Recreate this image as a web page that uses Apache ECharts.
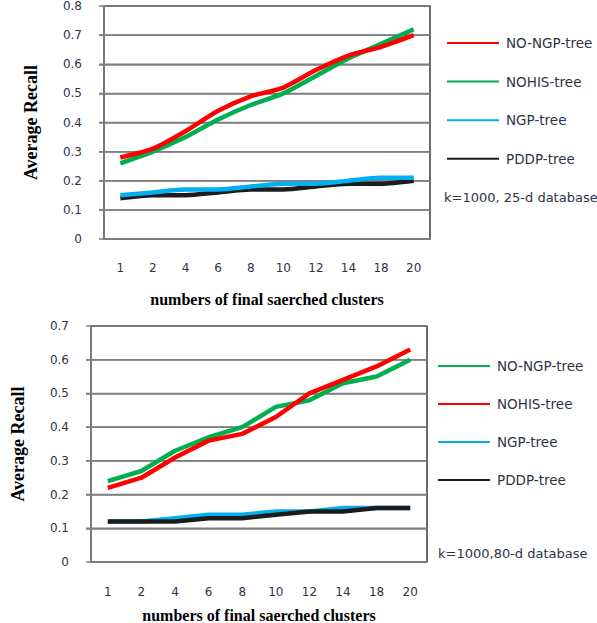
<!DOCTYPE html>
<html>
<head>
<meta charset="utf-8">
<script src="https://cdn.jsdelivr.net/npm/echarts@6/dist/echarts.min.js"></script>
<style>
  html, body { margin: 0; padding: 0; background: #fff; }
  #top { position: absolute; left: 0; top: 0; width: 597px; height: 310px; }
  #bottom { position: absolute; left: 0; top: 310px; width: 597px; height: 313px; }
</style>
</head>
<body>
<div id="top"></div>
<div id="bottom"></div>
<script>
// Number of final searched clusters (shared category axis)
const clusters = ['1', '2', '4', '6', '8', '10', '12', '14', '18', '20'];

// 25-d database, k=1000
const top_noNgp  = [0.28, 0.31, 0.37, 0.44, 0.49, 0.52, 0.58, 0.63, 0.66, 0.70];
const top_nohis  = [0.26, 0.30, 0.35, 0.41, 0.46, 0.50, 0.56, 0.62, 0.67, 0.72];
const top_ngp    = [0.15, 0.16, 0.17, 0.17, 0.18, 0.19, 0.19, 0.20, 0.21, 0.21];
const top_pddp   = [0.14, 0.15, 0.15, 0.16, 0.17, 0.17, 0.18, 0.19, 0.19, 0.20];

// 80-d database, k=1000
const bot_noNgp  = [0.24, 0.27, 0.33, 0.37, 0.40, 0.46, 0.48, 0.53, 0.55, 0.60];
const bot_nohis  = [0.22, 0.25, 0.31, 0.36, 0.38, 0.43, 0.50, 0.54, 0.58, 0.63];
const bot_ngp    = [0.12, 0.12, 0.13, 0.14, 0.14, 0.15, 0.15, 0.16, 0.16, 0.16];
const bot_pddp   = [0.12, 0.12, 0.12, 0.13, 0.13, 0.14, 0.15, 0.15, 0.16, 0.16];

// Horizontal gridline levels of each panel
const topGridLevels = [0.1, 0.2, 0.3, 0.4, 0.5, 0.6, 0.7];
const botGridLevels = [0.1, 0.2, 0.3, 0.4, 0.5, 0.6];

const RED = '#ff0000', GREEN = '#00b050', BLUE = '#00b0f0', BLACK = '#1c1c1c';
const LABEL = '#2e3446';
const GRID_GRAY = '#7f7f7f';
const FRAME = '#3a3a3a';

function line(name, data, color, z, smooth) {
  return {
    name, type: 'line', data, symbol: 'none', smooth: smooth, z,
    color, lineStyle: { color, width: 4.5 }
  };
}

function noteGraphic(note) {
  return {
    id: 'note', type: 'text', left: note.left, top: note.top, z: 10,
    style: { text: note.text, fontFamily: 'DejaVu Sans', fontSize: 13, fill: LABEL }
  };
}

function build(cfg) {
  return {
    animation: false,
    grid: {
      left: cfg.grid.left, top: cfg.grid.top, width: cfg.grid.width, height: cfg.grid.height,
      outerBoundsMode: 'none', containLabel: false,
      show: true, borderColor: FRAME, borderWidth: 1.5, backgroundColor: 'transparent'
    },
    legend: {
      orient: 'vertical', left: cfg.legend.left, top: cfg.legend.top, padding: 0,
      itemGap: cfg.legend.gap, icon: 'rect', itemWidth: 52, itemHeight: 2,
      textStyle: { fontFamily: 'DejaVu Sans', fontSize: 13.5, color: LABEL, padding: [0, 0, 0, 2] },
      data: cfg.legendOrder
    },
    xAxis: {
      type: 'category', data: clusters, boundaryGap: true, z: 3,
      axisLine: { show: true, lineStyle: { color: GRID_GRAY, width: 1.5 } },
      axisTick: { show: false },
      splitLine: { show: false },
      axisLabel: { fontFamily: 'DejaVu Sans', fontSize: 12, color: LABEL, margin: cfg.xLabelMargin },
      name: 'numbers of final saerched clusters', nameLocation: 'middle', nameGap: cfg.xNameGap,
      nameTextStyle: { fontFamily: 'Liberation Serif', fontWeight: 'bold', fontSize: 16, color: '#000' }
    },
    yAxis: {
      type: 'value', min: 0, max: cfg.yMax, interval: 0.1, z: 1,
      axisLine: { show: true, lineStyle: { color: GRID_GRAY, width: 1.5 } },
      axisTick: { show: true, length: 5, lineStyle: { color: GRID_GRAY, width: 1.5 } },
      splitLine: { show: true, lineStyle: { color: GRID_GRAY, width: 1.5, type: 'solid' } },
      axisLabel: { fontFamily: 'DejaVu Sans', fontSize: 12, color: LABEL, margin: 22,
                   formatter: v => (Math.round(v * 10) / 10).toString() },
      name: 'Average Recall', nameLocation: 'middle', nameGap: cfg.yNameGap, nameRotate: 90,
      nameTextStyle: { fontFamily: 'Liberation Serif', fontWeight: 'bold', fontSize: 18, color: '#000' }
    },
    graphic: [noteGraphic(cfg.note)],
    series: cfg.series
  };
}

// Horizontal gridlines placed with the chart's own y scale
function drawGridlines(chart, cfg) {
  const x1 = cfg.grid.left - 5;
  const x2 = cfg.grid.left + cfg.grid.width;
  const lines = cfg.levels.map((v, i) => {
    const y = chart.convertToPixel({ yAxisIndex: 0 }, v);
    return {
      id: 'gl' + i, type: 'line', silent: true, z: 1,
      shape: { x1: x1, y1: y, x2: x2, y2: y },
      style: { stroke: GRID_GRAY, lineWidth: 1.5 }
    };
  });
  chart.setOption({ graphic: [noteGraphic(cfg.note)].concat(lines) });
}

const topCfg = {
  grid: { left: 104, top: 6, width: 326, height: 233 },
  legend: { left: 447, top: 36, gap: 24.6 },
  legendOrder: ['NO-NGP-tree', 'NOHIS-tree', 'NGP-tree', 'PDDP-tree'],
  xLabelMargin: 23, xNameGap: 52, yNameGap: 64, yMax: 0.8,
  levels: topGridLevels,
  note: { left: 444, top: 191, text: 'k=1000, 25-d database' },
  series: [
    line('PDDP-tree', top_pddp, BLACK, 2, 0.25),
    line('NGP-tree', top_ngp, BLUE, 3, 0.25),
    line('NOHIS-tree', top_nohis, GREEN, 4, 0.25),
    line('NO-NGP-tree', top_noNgp, RED, 5, 0.25)
  ]
};

const botCfg = {
  grid: { left: 91, top: 16, width: 336, height: 236 },
  legend: { left: 438, top: 49, gap: 24 },
  legendOrder: ['NO-NGP-tree', 'NOHIS-tree', 'NGP-tree', 'PDDP-tree'],
  xLabelMargin: 24, xNameGap: 45, yNameGap: 64, yMax: 0.7,
  levels: botGridLevels,
  note: { left: 438, top: 237, text: 'k=1000,80-d database' },
  series: [
    line('NGP-tree', bot_ngp, BLUE, 2, false),
    line('PDDP-tree', bot_pddp, BLACK, 3, false),
    line('NO-NGP-tree', bot_noNgp, GREEN, 4, false),
    line('NOHIS-tree', bot_nohis, RED, 5, false)
  ]
};

const topChart = echarts.init(document.getElementById('top'), null, { renderer: 'svg' });
topChart.setOption(build(topCfg));
drawGridlines(topChart, topCfg);

const bottomChart = echarts.init(document.getElementById('bottom'), null, { renderer: 'svg' });
bottomChart.setOption(build(botCfg));
drawGridlines(bottomChart, botCfg);
</script>
</body>
</html>
